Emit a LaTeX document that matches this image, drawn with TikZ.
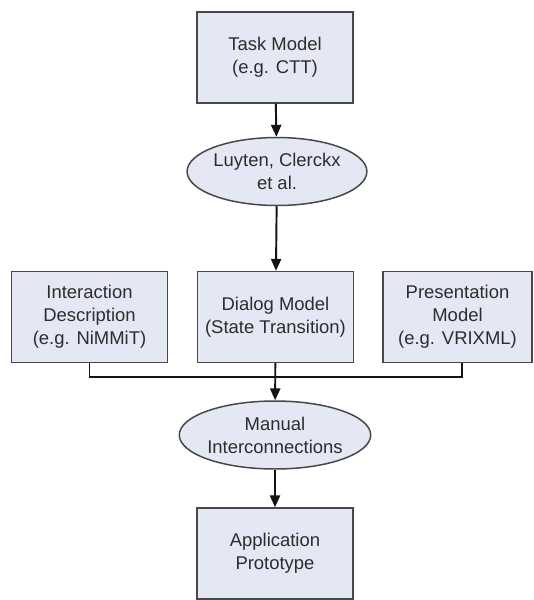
\documentclass[tikz,border=0pt]{standalone}
\usepackage{fontspec}
\setmainfont{Liberation Sans}
\usepackage{tikz}
\usetikzlibrary{shapes.geometric,arrows.meta,positioning}
\definecolor{ModelFill}{RGB}{228,232,244}
\definecolor{ModelLine}{RGB}{72,72,72}
\definecolor{ModelText}{RGB}{45,45,45}
\definecolor{LinkLine}{RGB}{20,20,20}

\begin{document}
\begin{tikzpicture}[x=0.02cm,y=-0.02cm,
  model/.style={draw=ModelLine,fill=ModelFill,line width=0.85pt,
              minimum width=3.12cm,minimum height=1.82cm,align=center,
              text=ModelText,font=\fontsize{10.5}{13}\selectfont},
  tool/.style={ellipse,draw=ModelLine,fill=ModelFill,line width=0.85pt,
              minimum width=3.46cm,minimum height=1.36cm,inner sep=0pt,
              align=center,text=ModelText,font=\fontsize{10.5}{13}\selectfont},
  link/.style={draw=LinkLine,line width=1.1pt},
  flow/.style={link,-{Triangle[width=5.8pt,length=6.8pt]}},
]
\useasboundingbox (0,0) rectangle (534,600);
\node[model] (task)  at (275,57.5)  {Task Model\\(e.g. CTT)};
\node[tool]  (luy)   at (277,171.5) {Luyten, Clerckx\\et al.};
\node[model] (inter) at (89.5,317)  {Interaction\\Description\\(e.g. NiMMiT)};
\node[model] (dlg)   at (275.5,317) {Dialog Model\\(State Transition)};
\node[model,minimum width=2.98cm] (pres) at (457.5,317)
  {Presentation\\Model\\(e.g. VRIXML)};
\node[tool]  (man)   at (275,435)   {Manual\\Interconnections};
\node[model] (app)   at (275,553.5) {Application\\Prototype};
\coordinate (bus) at (dlg.south |- 0,377);
\draw[flow] (task) -- (luy);
\draw[flow] (luy) -- (dlg);
\draw[link] (inter.south) |- (bus);
\draw[link] (pres.south -| 462,0) |- (bus);
\draw[flow] (dlg) -- (man);
\draw[flow] (man) -- (app);
\end{tikzpicture}
\end{document}
